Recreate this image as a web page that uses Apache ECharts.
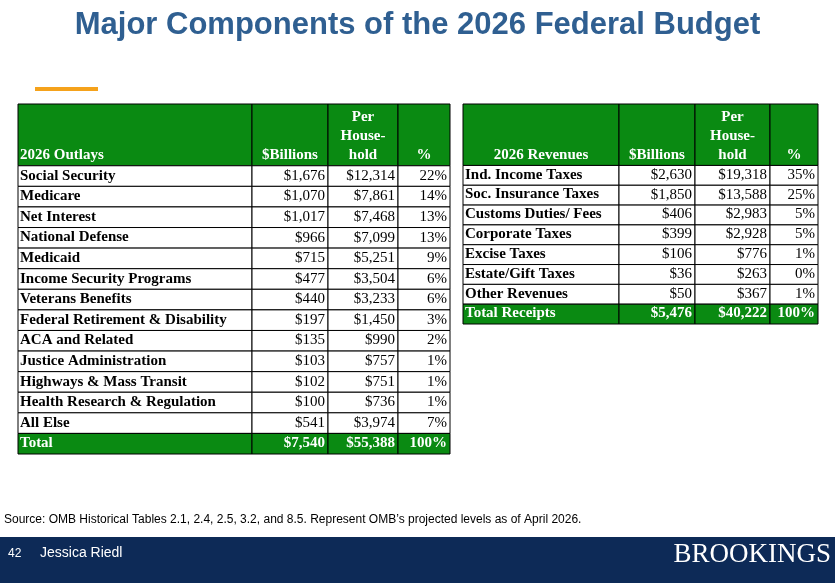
<!DOCTYPE html>
<html>
<head>
<meta charset="utf-8">
<script src="https://cdn.jsdelivr.net/npm/echarts@6/dist/echarts.min.js"></script>
<style>
  html, body { margin: 0; padding: 0; background: #fff; }
  #chart { width: 835px; height: 583px; }
</style>
</head>
<body>
<div id="chart"></div>
<script>
// outlays table
var outLabels = ['Social Security', 'Medicare', 'Net Interest', 'National Defense', 'Medicaid',
  'Income Security Programs', 'Veterans Benefits', 'Federal Retirement & Disability', 'ACA and Related',
  'Justice Administration', 'Highways & Mass Transit', 'Health Research & Regulation', 'All Else'];
var outBillions = ['$1,676', '$1,070', '$1,017', '$966', '$715', '$477', '$440', '$197', '$135', '$103', '$102', '$100', '$541'];
var outPerHH = ['$12,314', '$7,861', '$7,468', '$7,099', '$5,251', '$3,504', '$3,233', '$1,450', '$990', '$757', '$751', '$736', '$3,974'];
var outPct = ['22%', '14%', '13%', '13%', '9%', '6%', '6%', '3%', '2%', '1%', '1%', '1%', '7%'];
var outTotal = ['Total', '$7,540', '$55,388', '100%'];
var outHeader = ['2026 Outlays', '$Billions', 'Per\nHouse-\nhold', '%'];

// revenues table
var revLabels = ['Ind. Income Taxes', 'Soc. Insurance Taxes', 'Customs Duties/ Fees', 'Corporate Taxes',
  'Excise Taxes', 'Estate/Gift Taxes', 'Other Revenues'];
var revBillions = ['$2,630', '$1,850', '$406', '$399', '$106', '$36', '$50'];
var revPerHH = ['$19,318', '$13,588', '$2,983', '$2,928', '$776', '$263', '$367'];
var revPct = ['35%', '25%', '5%', '5%', '1%', '0%', '1%'];
var revTotal = ['Total Receipts', '$5,476', '$40,222', '100%'];
var revHeader = ['2026 Revenues', '$Billions', 'Per\nHouse-\nhold', '%'];

var green = '#0a8a12';
var serif = '"Liberation Serif", "Times New Roman", serif';

function buildCells(header, labels, b, p, pct, total, headerRows, headerAlign) {
  var cells = [];
  header.forEach(function (t, i) {
    cells.push({ col: i, y0: 0, y1: headerRows, text: t, kind: 'head', align: headerAlign[i] });
  });
  labels.forEach(function (l, r) {
    var y0 = headerRows + r;
    [l, b[r], p[r], pct[r]].forEach(function (t, i) {
      cells.push({ col: i, y0: y0, y1: y0 + 1, text: t, kind: i === 0 ? 'label' : 'num' });
    });
  });
  var yt = headerRows + labels.length;
  total.forEach(function (t, i) {
    cells.push({ col: i, y0: yt, y1: yt + 1, text: t, kind: 'total' });
  });
  return cells;
}

var outEdges = [0, 234, 310, 380, 432];
var revEdges = [0, 156, 232, 307, 355];
var outCells = buildCells(outHeader, outLabels, outBillions, outPerHH, outPct, outTotal, 3,
  ['left', 'center', 'center', 'center']);
var revCells = buildCells(revHeader, revLabels, revBillions, revPerHH, revPct, revTotal, 3.1,
  ['center', 'center', 'center', 'center']);

function makeRender(cells, edges) {
  return function (params, api) {
    var c = cells[params.dataIndex];
    var p0 = api.coord([edges[c.col], c.y0]);
    var p1 = api.coord([edges[c.col + 1], c.y1]);
    var x = p0[0], y = p0[1], w = p1[0] - p0[0], h = p1[1] - p0[1];
    var filled = c.kind === 'head' || c.kind === 'total';
    var tx, align;
    if (c.kind === 'head') {
      align = c.align;
      tx = align === 'left' ? x + 2 : x + w / 2;
    } else if (c.col === 0) {
      align = 'left'; tx = x + 2;
    } else {
      align = 'right'; tx = x + w - 3;
    }
    return {
      type: 'group',
      children: [{
        type: 'rect',
        shape: { x: x, y: y, width: w, height: h },
        style: { fill: filled ? green : '#fff', stroke: '#000', lineWidth: 1 }
      }, {
        type: 'text',
        style: {
          x: tx, y: y + h - 1,
          text: c.text,
          align: align, verticalAlign: 'bottom',
          fill: filled ? '#fff' : '#000',
          font: (c.kind === 'num' ? '' : 'bold ') + '15px ' + serif,
          lineHeight: 19
        }
      }]
    };
  };
}

var chart = echarts.init(document.getElementById('chart'));
var option = {
  animation: false,
  grid: [
    { left: 18, top: 104, width: 432, height: 350 },
    { left: 463, top: 104, width: 355, height: 220 }
  ],
  xAxis: [
    { type: 'value', gridIndex: 0, min: 0, max: 432, show: false },
    { type: 'value', gridIndex: 1, min: 0, max: 355, show: false }
  ],
  yAxis: [
    { type: 'value', gridIndex: 0, min: 0, max: 17, inverse: true, show: false },
    { type: 'value', gridIndex: 1, min: 0, max: 11.1, inverse: true, show: false }
  ],
  series: [{
    type: 'custom', xAxisIndex: 0, yAxisIndex: 0, clip: false,
    renderItem: makeRender(outCells, outEdges),
    data: outCells.map(function (c) { return [outEdges[c.col], c.y0]; })
  }, {
    type: 'custom', xAxisIndex: 1, yAxisIndex: 1, clip: false,
    renderItem: makeRender(revCells, revEdges),
    data: revCells.map(function (c) { return [revEdges[c.col], c.y0]; })
  }],
  graphic: [{
    type: 'text', left: 'center', top: 10,
    style: { text: 'Major Components of the 2026 Federal Budget', fill: '#2f5f91',
      font: 'bold 31px "Liberation Sans", Arial, sans-serif' }
  }, {
    type: 'rect', shape: { x: 35, y: 87, width: 63, height: 4 }, style: { fill: '#f5a21b' }
  }, {
    type: 'text', left: 4, top: 514,
    style: { text: 'Source: OMB Historical Tables 2.1, 2.4, 2.5, 3.2, and 8.5. Represent OMB\u2019s projected levels as of April 2026.',
      fill: '#000', font: '12px "Liberation Sans", Arial, sans-serif' }
  }, {
    type: 'rect', shape: { x: 0, y: 537, width: 835, height: 46 }, style: { fill: '#0d2a57' }
  }, {
    type: 'text', left: 8, top: 548,
    style: { text: '42', fill: '#fff', font: '12px "Liberation Sans", Arial, sans-serif' }
  }, {
    type: 'text', left: 40, top: 546,
    style: { text: 'Jessica Riedl', fill: '#fff', font: '14px "Liberation Sans", Arial, sans-serif' }
  }, {
    type: 'text', right: 4, top: 541,
    style: { text: 'BROOKINGS', fill: '#fff', font: '27px "Liberation Serif", "Times New Roman", serif' }
  }]
};
chart.setOption(option);
</script>
</body>
</html>
